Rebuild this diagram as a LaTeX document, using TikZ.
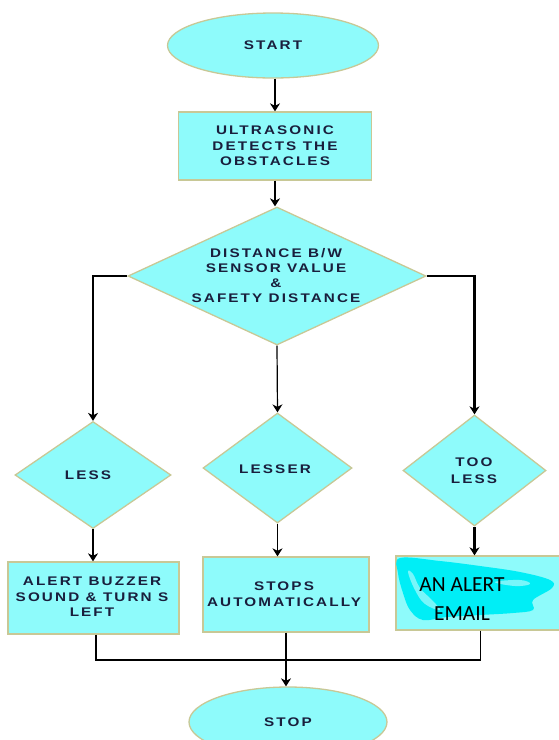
\documentclass[tikz,border=0pt]{standalone}
\usepackage{fontspec}
\usetikzlibrary{shapes.geometric,arrows.meta}
\newfontfamily\lblfont{Liberation Sans}[FakeStretch=1.22,LetterSpace=17]
\newfontfamily\calfont{Carlito}
\definecolor{fillc}{RGB}{142,251,251}
\definecolor{edgec}{RGB}{200,200,150}
\definecolor{txtc}{RGB}{25,30,60}
\definecolor{scrib}{RGB}{0,238,246}
\definecolor{scribl}{RGB}{120,246,250}
\begin{document}
\begin{tikzpicture}[x=1pt,y=-1pt,
  shapebase/.style={fill=fillc,draw=edgec,line width=1.3pt,inner sep=0pt},
  oval/.style={shapebase,ellipse},
  box/.style={shapebase,rectangle},
  dia/.style={shapebase,diamond},
  txt/.style={font=\lblfont\bfseries\fontsize{12.5}{15.5}\selectfont,text=txtc,align=center,inner sep=0pt},
  thinarr/.style={line width=1.2pt,-{Stealth[length=8pt,width=10pt,inset=2.5pt]}},
  thickarr/.style={line width=2.6pt,-{Stealth[length=8pt,width=10pt,inset=2.5pt]}},
  joinline/.style={line width=2pt}
]
\useasboundingbox (0,0) rectangle (559,740);
\clip (0,0) rectangle (559,740);

% shapes
\node[oval,txt,minimum width=211pt,minimum height=65pt] (start) at (273,45.5) {START};
\node[box,txt,minimum width=193pt,minimum height=68pt] (ultra) at (275,146) {ULTRASONIC\\DETECTS THE\\OBSTACLES};
\node[dia,minimum width=298pt,minimum height=138pt] (dist) at (277,276) {};
\node[txt,font=\lblfont\bfseries\fontsize{12.5}{15}\selectfont] (distT) at (276,275.5) {DISTANCE B/W\\SENSOR VALUE\\\&\\SAFETY DISTANCE};

\node[dia,minimum width=156pt,minimum height=107pt] (less) at (93,475) {};
\node[txt] (lessT) at (88,475) {LESS};
\node[dia,minimum width=149pt,minimum height=110pt] (lesser) at (277.5,468) {};
\node[txt] (lesserT) at (275,469) {LESSER};
\node[dia,minimum width=143pt,minimum height=111pt] (tooless) at (474.5,470.5) {};
\node[txt,font=\lblfont\bfseries\fontsize{12.5}{17}\selectfont] (toolessT) at (474,470.5) {TOO\\LESS};

\node[box,minimum width=171pt,minimum height=72pt] (box1) at (93.5,598) {};
\node[txt] (box1T) at (92,597) {ALERT BUZZER\\SOUND \& TURN S\\LEFT};
\node[box,minimum width=166pt,minimum height=75pt] (box2) at (286,594.5) {};
\node[txt] (box2T) at (284,594) {STOPS\\AUTOMATICALLY};
\node[box,minimum width=169pt,minimum height=74pt] (box3) at (480.5,593) {};
\fill[scrib] plot[smooth cycle,tension=0.6] coordinates {(400,558) (440,561) (480,566) (520,572) (550,580) (552,588) (533,600) (533,610) (513,613) (480,615) (447,617) (423,620) (410,610) (403,593) (398,573)};
\fill[scribl] plot[smooth cycle,tension=0.7] coordinates {(408,572) (415,590) (425,604) (440,610) (432,600) (420,588) (413,574)};
\fill[scribl] plot[smooth cycle,tension=0.7] coordinates {(495,582) (520,580) (530,584) (515,586)};
\node[font=\calfont\fontsize{21.5}{29}\selectfont,text=black,align=center,inner sep=0pt] (box3T) at (462,599.5) {AN ALERT\\EMAIL};

\node[oval,txt,minimum width=198pt,minimum height=70pt] (stop) at (288,722) {STOP};

% connectors
\draw[thickarr] (ultra.north |- start.south) -- (ultra.north);
\draw[thickarr] (ultra.south) -- (ultra.south |- dist.north);
\draw[thinarr] (dist.west) -| (less.north);
\draw[thinarr] (dist.south) -- (lesser.north);
\draw[thickarr] (dist.east) -| (tooless.north);
\draw[thinarr] (less.south) -- (less.south |- box1.north);
\draw[thinarr] (lesser.south) -- (lesser.south |- box2.north);
\draw[thickarr] (tooless.south) -- (tooless.south |- box3.north);
\coordinate (join) at (286,660);
\draw[joinline] ([xshift=2.5pt]box1.south) |- (join);
\draw[line width=1.3pt] (box3.south) |- (join);
\draw[thickarr] (box2.south) -- (box2.south |- stop.north);
\end{tikzpicture}
\end{document}
